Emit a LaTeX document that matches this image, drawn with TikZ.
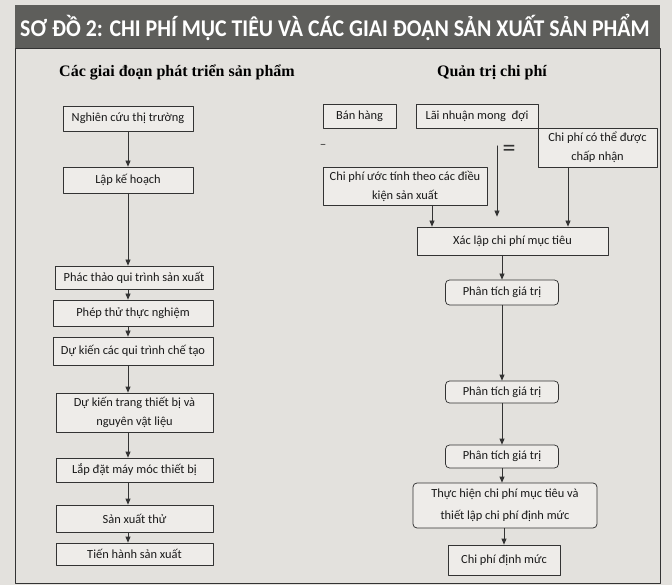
\documentclass[tikz,border=0pt]{standalone}
\usepackage{fontspec}
\setmainfont{Carlito}
\newfontfamily\headserif{Liberation Serif}
\usetikzlibrary{arrows.meta}
\definecolor{nen}{HTML}{E3E1DD}
\definecolor{nenhop}{HTML}{EEECE9}
\definecolor{dai}{HTML}{5E5E5B}
\definecolor{vien}{HTML}{333333}

\begin{document}
\begin{tikzpicture}[line cap=round,line join=round,x=1pt,y=-1pt,
  >={Triangle[length=6pt,width=5pt]},
  hop/.style={draw=vien,fill=nenhop,line width=0.75pt,inner sep=1pt,align=center,
    text=black!90,font=\fontsize{12.4}{19}\selectfont},
  hoptron/.style={hop,rounded corners=4pt},
  muiten/.style={->,draw=vien,line width=0.75pt}]
%nen va khung
\fill[nen] (0,0) rectangle (672,585);
\useasboundingbox (0,0) rectangle (672,585);
\fill[dai] (15,5) rectangle (660,48);
\draw[vien,line width=0.9pt] (15,48) rectangle (660,583);
\node[text=white,font=\bfseries\fontsize{24}{26}\selectfont] (tieude) at (335,27)
  {\scalebox{0.91}[1]{SƠ ĐỒ 2: CHI PHÍ MỤC TIÊU VÀ CÁC GIAI ĐOẠN SẢN XUẤT SẢN PHẨM}};
\node[font=\headserif\bfseries\fontsize{16}{18}\selectfont] (giaidoan) at (177,72)
  {Các giai đoạn phát triển sản phẩm};
\node[font=\headserif\bfseries\fontsize{16}{18}\selectfont] (quantri) at (492,73)
  {Quản trị chi phí};

%cot trai
\node[hop,minimum width=130pt,minimum height=25pt] (nghiencuu) at (128,118.5) {Nghiên cứu thị trường};
\node[hop,minimum width=130pt,minimum height=26pt] (lapkehoach) at (128,180) {Lập kế hoạch};
\node[hop,minimum width=158pt,minimum height=23pt] (phacthao) at (134,277.5) {Phác thảo qui trình sản xuất};
\node[hop,minimum width=160pt,minimum height=26pt] (phepthu) at (133,313) {Phép thử thực nghiệm};
\node[hop,minimum width=160pt,minimum height=28pt] (dukienqt) at (133,351) {Dự kiến các qui trình chế tạo};
\node[hop,minimum width=157pt,minimum height=39pt] (dukientb) at (134.5,412.5) {Dự kiến trang thiết bị và\\nguyên vật liệu};
\node[hop,minimum width=157pt,minimum height=24pt] (lapdat) at (134.5,470) {Lắp đặt máy móc thiết bị};
\node[hop,minimum width=157pt,minimum height=27pt] (sxthu) at (134.5,518.5) {Sản xuất thử};
\node[hop,minimum width=157pt,minimum height=22pt] (tienhanh) at (134.5,554) {Tiến hành sản xuất};

\draw[muiten] (nghiencuu) -- (lapkehoach);
\foreach \a/\b in {lapkehoach/phacthao,phacthao/phepthu,phepthu/dukienqt,
  dukienqt/dukientb,dukientb/lapdat,lapdat/sxthu,sxthu/tienhanh}
{
\draw[muiten] (\a.south -| nghiencuu) -- (\b.north -| nghiencuu);
}

%cot phai
\node[hop,minimum width=73pt,minimum height=24pt] (banhang) at (359.5,116.5) {Bán hàng};
\node[hop,minimum width=122pt,minimum height=24pt] (loinhuan) at (477,116.5) {Lãi nhuận mong\ \ đợi};
\node[hop,minimum width=119pt,minimum height=39pt] (chapnhan) at (597.5,147.5) {Chi phí có thể được\\chấp nhận};
\node[text=black!80,font=\fontsize{13}{14}\selectfont] (dautru) at (323,146) {–};
\node[text=black!80,font=\fontsize{26}{28}\selectfont] (daubang) at (509,151) {=};
\node[hop,minimum width=164pt,minimum height=38pt] (uoctinh) at (405,186) {Chi phí ước tính theo các điều\\kiện sản xuất};
\node[hop,minimum width=191pt,minimum height=28pt] (xaclap) at (512.5,241) {Xác lập chi phí mục tiêu};
\node[hoptron,minimum width=113pt,minimum height=25pt] (phantich1) at (502,292.5) {Phân tích giá trị};
\node[hoptron,minimum width=113pt,minimum height=22pt] (phantich2) at (502,392) {Phân tích giá trị};
\node[hoptron,minimum width=113pt,minimum height=23pt] (phantich3) at (502,456.5) {Phân tích giá trị};
\node[hoptron,minimum width=184pt,minimum height=45pt,font=\fontsize{12.4}{22}\selectfont] (thuchien) at (505,505.5)
  {Thực hiện chi phí mục tiêu và\\thiết lập chi phí định mức};
\node[hop,minimum width=112pt,minimum height=30pt] (dinhmuc) at (504,560) {Chi phí định mức};

\draw[muiten,shorten <=17pt,shorten >=10pt] ([xshift=20pt]loinhuan.south) -- ([xshift=20pt]loinhuan.south |- xaclap.north);
\draw[muiten] ([xshift=27pt]uoctinh.south) -- ([xshift=27pt]uoctinh.south |- xaclap.north);
\draw[muiten] ([xshift=-29.5pt]chapnhan.south) -- ([xshift=-29.5pt]chapnhan.south |- xaclap.north);
\draw[muiten] (phantich1.north |- xaclap.south) -- (phantich1.north);
\draw[muiten] (phantich1) -- (phantich2);
\draw[muiten] (phantich2) -- (phantich3);
\draw[muiten] (phantich3.south) -- (phantich3.south |- thuchien.north);
\draw[muiten] (dinhmuc.north |- thuchien.south) -- (dinhmuc.north);
\end{tikzpicture}
\end{document}
